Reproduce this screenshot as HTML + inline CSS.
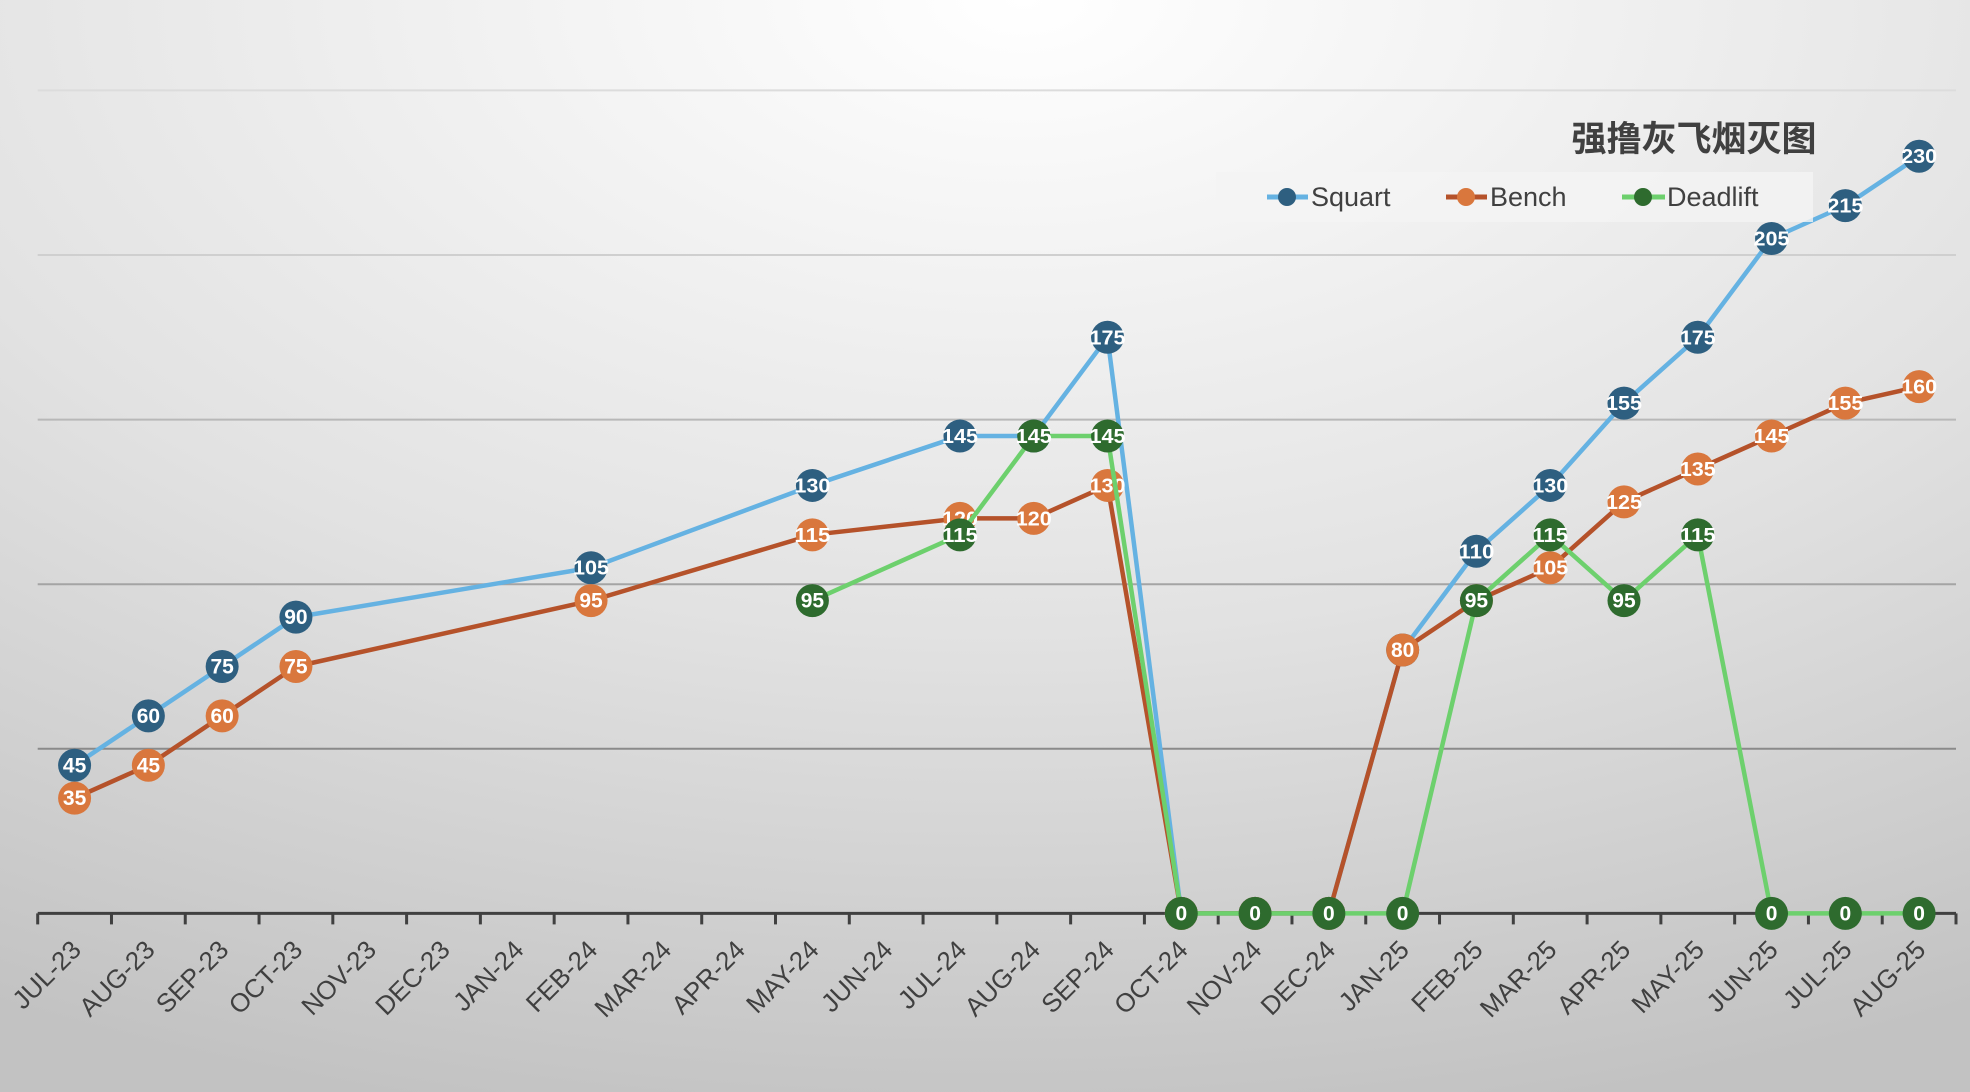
<!DOCTYPE html>
<html><head><meta charset="utf-8"><style>
html,body{margin:0;padding:0;}
body{width:1970px;height:1092px;overflow:hidden;}
svg{display:block;}
</style></head><body>
<svg id="chart" width="1970" height="1092" viewBox="0 0 1970 1092" xmlns="http://www.w3.org/2000/svg">
<defs>
<radialGradient id="bg" cx="0.5" cy="0" r="1.05" fx="0.52" fy="0">
<stop offset="0" stop-color="#ffffff"/>
<stop offset="0.55" stop-color="#e2e2e2"/>
<stop offset="1" stop-color="#c2c2c2"/>
</radialGradient>
</defs>
<rect x="0" y="0" width="1970" height="1092" fill="url(#bg)"/>
<g id="grid"></g>
<g id="axis"></g>
<g id="series"></g>
<text x="1694" y="151" text-anchor="middle" font-family="'Liberation Sans','Noto Sans CJK SC',sans-serif" font-weight="bold" font-size="35" fill="#404040">强撸灰飞烟灭图</text>
<g>
<rect x="1216" y="172" width="597" height="50" fill="#f4f4f4" opacity="0.8"/>
<g>
<line x1="1267" y1="197" x2="1308" y2="197" stroke="#65b2e2" stroke-width="5"/>
<circle cx="1287" cy="197" r="9" fill="#2e5f80"/>
<text x="1311" y="206" font-family="'Liberation Sans',sans-serif" font-size="27" fill="#404040">Squart</text></g>
<g>
<line x1="1446" y1="197" x2="1487" y2="197" stroke="#b5522a" stroke-width="5"/>
<circle cx="1466" cy="197" r="9" fill="#d9773d"/>
<text x="1490" y="206" font-family="'Liberation Sans',sans-serif" font-size="27" fill="#404040">Bench</text></g>
<g>
<line x1="1622" y1="197" x2="1665" y2="197" stroke="#6dd06d" stroke-width="5"/>
<circle cx="1643" cy="197" r="9" fill="#2e6b2e"/>
<text x="1667" y="206" font-family="'Liberation Sans',sans-serif" font-size="27" fill="#404040">Deadlift</text></g>
</g>
</svg>
<script>
const categories = ["JUL-23","AUG-23","SEP-23","OCT-23","NOV-23","DEC-23","JAN-24","FEB-24","MAR-24","APR-24","MAY-24","JUN-24","JUL-24","AUG-24","SEP-24","OCT-24","NOV-24","DEC-24","JAN-25","FEB-25","MAR-25","APR-25","MAY-25","JUN-25","JUL-25","AUG-25"];
const squart = [45,60,75,90,null,null,null,105,null,null,130,null,145,145,175,0,0,0,80,110,130,155,175,205,215,230];
const bench = [35,45,60,75,null,null,null,95,null,null,115,null,120,120,130,0,0,0,80,95,105,125,135,145,155,160];
const deadlift = [null,null,null,null,null,null,null,null,null,null,95,null,115,145,145,0,0,0,0,95,115,95,115,0,0,0];
const gridValues = [50,100,150,200,250];

const NS = "http://www.w3.org/2000/svg";
const X0 = 37.7, X1 = 1956, Y0 = 913.4, YTOP = 90.4, VMAX = 250;
const step = (X1 - X0) / categories.length;
function xScale(i){ return X0 + step * (i + 0.5); }
function yScale(v){ return Y0 - (v / VMAX) * (Y0 - YTOP); }
function mk(tag, attrs, parent){ const e = document.createElementNS(NS, tag); for (const k in attrs) e.setAttribute(k, attrs[k]); parent.appendChild(e); return e; }

const grid = document.getElementById('grid');
gridValues.forEach(v => {
  const y = yScale(v);
  const col = v >= 250 ? '#dcdcdc' : v >= 200 ? '#cfcfcf' : v >= 150 ? '#b8b8b8' : v >= 100 ? '#a4a4a4' : '#8a8a8a';
  const l = mk('line', {x1: X0, x2: X1, y1: y, y2: y, stroke: col, 'stroke-width': 2}, grid);
  
  
});

const axis = document.getElementById('axis');
const al = mk('line', {x1: X0, x2: X1, y1: Y0, y2: Y0, stroke: '#404040', 'stroke-width': 3}, axis);


for (let i = 0; i <= categories.length; i++) {
  const x = X0 + step * i;
  const t = mk('line', {x1: x, x2: x, y1: Y0, y2: Y0 + 11, stroke: '#404040', 'stroke-width': 3}, axis);
  
  
}
categories.forEach((c, i) => {
  const x = xScale(i) + 8, y = Y0 + 38;
  const t = mk('text', {x: x, y: y, 'text-anchor': 'end', transform: 'rotate(-45 ' + x + ' ' + y + ')', 'font-family': "'Liberation Sans',sans-serif", 'font-size': 26, fill: '#404040'}, axis);
  t.textContent = c;
  
  
});

const seriesG = document.getElementById('series');
function drawSeries(name, vals, lineCol, markCol){
  const g = mk('g', {}, seriesG);
  
  
  const pts = [];
  vals.forEach((v, i) => { if (v !== null) pts.push([xScale(i), yScale(v), v]); });
  const p = mk('polyline', {points: pts.map(q => q[0] + ',' + q[1]).join(' '), fill: 'none', stroke: lineCol, 'stroke-width': 4.5, 'stroke-linejoin': 'round'}, g);
  
  
  pts.forEach(q => {
    const c = mk('circle', {cx: q[0], cy: q[1], r: 16.5, fill: markCol}, g);
    
    
    const s = String(q[2]);
    const t = mk('text', {x: q[0], y: q[1] + 7, 'text-anchor': 'middle', 'font-family': "'Liberation Sans',sans-serif", 'font-weight': 'bold', 'font-size': s.length > 2 ? 20 : 21, fill: '#ffffff'}, g);
    if (s.length > 2) { t.setAttribute('textLength', 36); t.setAttribute('lengthAdjust', 'spacingAndGlyphs'); }
    t.textContent = s;
    
    
  });
}
drawSeries('squart', squart, '#65b2e2', '#2e5f80');
drawSeries('bench', bench, '#b5522a', '#d9773d');
drawSeries('deadlift', deadlift, '#6dd06d', '#2e6b2e');
</script>
</body></html>
